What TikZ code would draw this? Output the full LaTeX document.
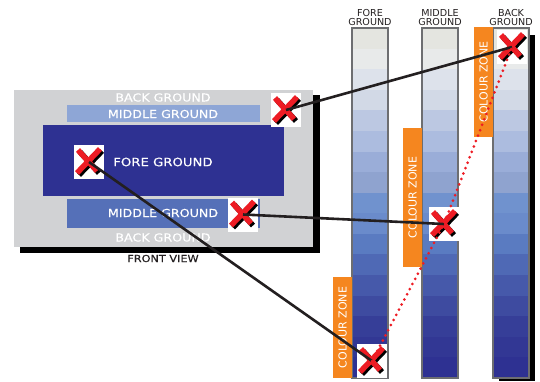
\documentclass[tikz,border=0pt]{standalone}
\usepackage{fontspec}
\setmainfont{DejaVu Sans}
\newfontfamily\widef[FakeStretch=1.15,FakeBold=0.3]{DejaVu Sans}
\definecolor{band1}{HTML}{E4E5E0}
\definecolor{band2}{HTML}{E8EAEA}
\definecolor{band3}{HTML}{DDE2EB}
\definecolor{band4}{HTML}{D2D9E6}
\definecolor{band5}{HTML}{BCC8E2}
\definecolor{band6}{HTML}{ACBCDF}
\definecolor{band7}{HTML}{9AADD8}
\definecolor{band8}{HTML}{8FA3CF}
\definecolor{band9}{HTML}{7092CE}
\definecolor{band10}{HTML}{6A8BCB}
\definecolor{band11}{HTML}{5A7BC1}
\definecolor{band12}{HTML}{4F69B5}
\definecolor{band13}{HTML}{4659AA}
\definecolor{band14}{HTML}{3E4BA0}
\definecolor{band15}{HTML}{363E98}
\definecolor{band16}{HTML}{323794}
\definecolor{band17}{HTML}{2E3192}
\definecolor{fvgray}{HTML}{D1D2D4}
\definecolor{navy}{HTML}{2E3192}
\definecolor{midlight}{HTML}{8EA6D6}
\definecolor{middark}{HTML}{5570B8}
\definecolor{zoneorange}{HTML}{F5861F}
\definecolor{xred}{HTML}{ED1C24}
\definecolor{inkblack}{HTML}{231F20}
\definecolor{colborder}{HTML}{6D6E71}
\begin{document}
\begin{tikzpicture}[x=1pt,y=-1pt,
  fvtext/.style={text=white,font=\widef\fontsize{11}{12}\selectfont,inner sep=0pt},
  bigtext/.style={text=white,font=\widef\fontsize{11.5}{12}\selectfont,inner sep=0pt},
  coltext/.style={text=inkblack,font=\fontsize{9.6}{9}\selectfont,inner sep=0pt},
  zone/.style={fill=zoneorange,text=white,rotate=90,minimum height=19pt,inner sep=0pt,
    font=\fontsize{11}{12}\selectfont},
  plate/.style={inner sep=0pt,draw=none},
  xbox/.style={fill=white,minimum width=30pt,minimum height=34pt,inner sep=0pt,
    path picture={
      \draw[black,line width=5.5pt]
        ([shift={(-10,13)}]path picture bounding box.center) -- ([shift={(13,-11)}]path picture bounding box.center)
        ([shift={(-9,-10)}]path picture bounding box.center) -- ([shift={(10,11)}]path picture bounding box.center);
      \draw[xred,line width=5.5pt]
        ([shift={(-12,11)}]path picture bounding box.center) -- ([shift={(11,-13)}]path picture bounding box.center)
        ([shift={(-11,-12)}]path picture bounding box.center) -- ([shift={(8,9)}]path picture bounding box.center);
    }},
  link/.style={draw=inkblack,line width=2.6pt},
  dots/.style={draw=xred,line width=3pt,line cap=round,dash pattern=on 0pt off 5.8pt}
]
\useasboundingbox (0,0) rectangle (540,381);

% ---------- front view ----------
\fill[black] (20,95) rectangle (320,253);
\node[plate,fill=fvgray,minimum width=299pt,minimum height=157pt] (fv) at (163.5,168) {};
\node[plate,fill=midlight,minimum width=193pt,minimum height=17pt] (mgtop) at (163.5,113.5) {};
\node[plate,fill=navy,minimum width=241pt,minimum height=71pt] (fg) at (163.5,160.5) {};
\node[plate,fill=middark,minimum width=193pt,minimum height=29pt] (mgbot) at (163.5,213.5) {};
\node[fvtext] (bgt) at (163,97.5) {BACK GROUND};
\node[fvtext] (mgt) at (163,114) {MIDDLE GROUND};
\node[bigtext] (fgt) at (163,162) {FORE GROUND};
\node[fvtext] (mgb) at (163,213) {MIDDLE GROUND};
\node[fvtext] (bgb) at (163,237.5) {BACK GROUND};
\node[text=inkblack,font=\widef\fontsize{9.8}{10}\selectfont,inner sep=0pt] (fvl) at (163,258.5) {FRONT VIEW};

% ---------- columns ----------
\fill[black] (529,35) rectangle (535,381);
\fill[black] (499,378) rectangle (535,381);
\foreach \cx in {352,422,493}{
  \foreach \k in {1,...,17}{
    \fill[band\k] (\cx,{28+(\k-1)*20.588}) rectangle (\cx+36,{28+\k*20.588+0.3});
  }
  \draw[colborder,line width=1.1pt] (\cx,28) rectangle (\cx+36,378);
}
\node[coltext,anchor=base] (lf1) at (370,16) {FORE};
\node[coltext,anchor=base] (lf2) at (370,25) {GROUND};
\node[coltext,anchor=base] (lm1) at (440,16) {MIDDLE};
\node[coltext,anchor=base] (lm2) at (440,25) {GROUND};
\node[coltext,anchor=base] (lb1) at (511,16) {BACK};
\node[coltext,anchor=base] (lb2) at (511,25) {GROUND};

% ---------- colour zones ----------
\node[zone,minimum width=101pt] (z1) at (342.5,327.5) {COLOUR ZONE};
\node[zone,minimum width=139pt] (z2) at (412.5,197.5) {COLOUR ZONE};
\node[zone,minimum width=110pt] (z3) at (483.5,82) {COLOUR ZONE};

% ---------- markers ----------
\node[xbox] (A) at (286,110) {};
\node[xbox] (B) at (89,162) {};
\node[xbox] (C) at (243,214.5) {};
\node[xbox] (D) at (512,47) {};
\node[xbox] (E) at (444,224) {};
\node[xbox] (F) at (372,361) {};

% ---------- connectors ----------
\draw[link] (A.center) -- (D.center);
\draw[link] (C.center) -- (E.center);
\draw[link] (B.center) -- (F.center);
\draw[dots] (F.center) -- (E.center) -- (D.center);
\end{tikzpicture}
\end{document}
